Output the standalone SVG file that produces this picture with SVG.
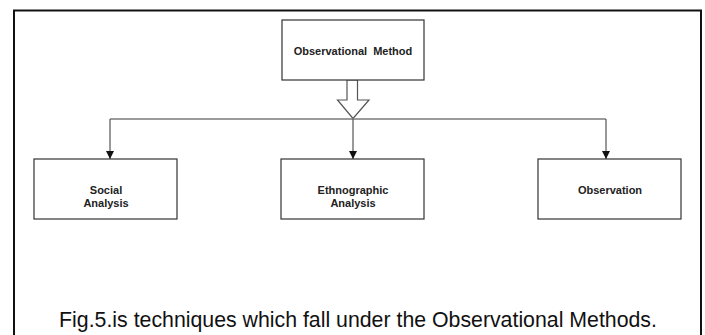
<svg xmlns="http://www.w3.org/2000/svg" width="705" height="335" viewBox="0 0 705 335">
  <defs>
    <marker id="tri" viewBox="0 0 8 8" refX="8" refY="4" markerWidth="8" markerHeight="8" markerUnits="userSpaceOnUse" orient="auto">
      <path d="M0,0 L8,4 L0,8 Z" fill="#111"/>
    </marker>
    <style>
      .box { fill: #fff; stroke: #333; stroke-width: 1.2; }
      .lbl { font-family: "Liberation Sans", Arial, sans-serif; font-size: 11px; font-weight: bold; fill: #222; text-anchor: middle; }
      .wire { fill: none; stroke: #7a7a7a; stroke-width: 1.5; }
      .drop { fill: none; stroke: #555; stroke-width: 1.2; marker-end: url(#tri); }
      .caption { font-family: "Liberation Sans", Arial, sans-serif; font-size: 21.3px; fill: #111; text-anchor: middle; }
    </style>
  </defs>

  <rect width="705" height="335" fill="#fff"/>

  <!-- outer frame, open at the bottom -->
  <path d="M14,335 V10.5 H701 V335" fill="none" stroke="#111" stroke-width="2"/>

  <g id="connectors">
    <!-- hollow block arrow under the root -->
    <path d="M347,80 H357.5 V100 H369 L353,118.5 L337.5,100 H347 Z" fill="#fff" stroke="#555" stroke-width="1.2"/>
    <!-- distribution bar -->
    <path class="wire" d="M110,119 H606"/>
    <path class="drop" d="M110,119 V159"/>
    <path class="drop" d="M353,119 V159"/>
    <path class="drop" d="M606,119 V159"/>
  </g>

  <g id="observational-method">
    <rect class="box" x="282" y="20" width="142" height="60"/>
    <text class="lbl" x="353" y="55" xml:space="preserve">Observational  Method</text>
  </g>

  <g id="social-analysis">
    <rect class="box" x="34" y="159" width="143" height="60"/>
    <text class="lbl" x="106" y="194">Social</text>
    <text class="lbl" x="106" y="207">Analysis</text>
  </g>

  <g id="ethnographic-analysis">
    <rect class="box" x="281" y="159" width="143" height="60"/>
    <text class="lbl" x="353" y="194">Ethnographic</text>
    <text class="lbl" x="353" y="207">Analysis</text>
  </g>

  <g id="observation">
    <rect class="box" x="538" y="159" width="143" height="60"/>
    <text class="lbl" x="610" y="194">Observation</text>
  </g>

  <text class="caption" x="358" y="327">Fig.5.is techniques which fall under the Observational Methods.</text>
</svg>
